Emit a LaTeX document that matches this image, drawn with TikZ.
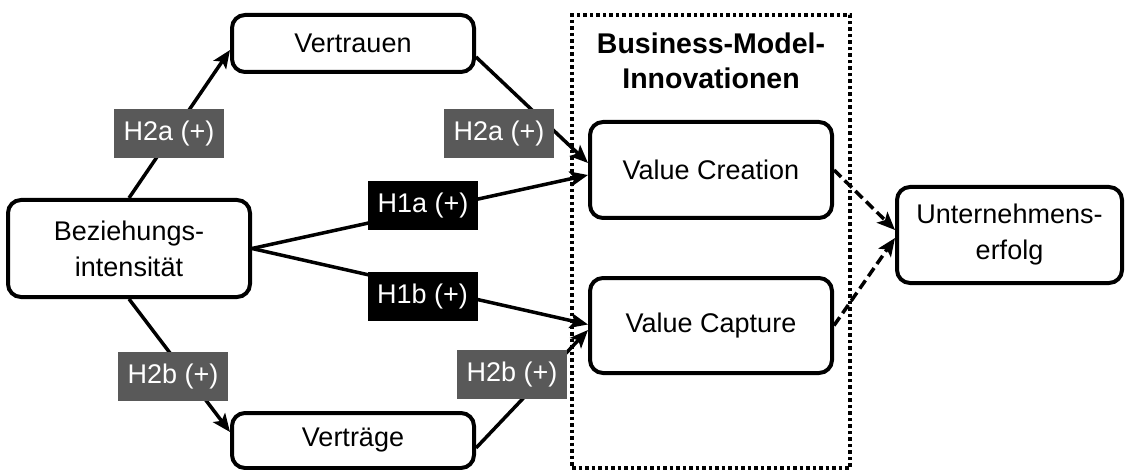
\documentclass[tikz,border=0pt]{standalone}
\usepackage{fontspec}
\setmainfont{Liberation Sans}
\usetikzlibrary{arrows.meta}
\definecolor{lblgray}{HTML}{595959}
\begin{document}
\begin{tikzpicture}[x=1pt,y=-1pt,
  box/.style={draw, line width=4pt, rounded corners=13pt, fill=white, align=center,
    font=\fontsize{27}{36}\selectfont, inner sep=0pt},
  lbl/.style={fill=lblgray, text=white, minimum width=110pt, minimum height=49pt,
    inner sep=0pt, font=\fontsize{27}{30}\selectfont},
  hlbl/.style={lbl, fill=black},
  conn/.style={line width=3.5pt, -{Stealth[length=18pt,width=15pt,inset=4pt]}},
  dconn/.style={conn, dash pattern=on 10pt off 5pt},
  groupbox/.style={draw, line width=3.5pt, dash pattern=on 3.5pt off 3pt, inner sep=0pt}]
\useasboundingbox (0,0) rectangle (1126,470);
% group
\node[groupbox, minimum width=278pt, minimum height=453pt] (bmi) at (711,241.5) {};
\node[align=center, font=\bfseries\fontsize{28.5}{35}\selectfont] (title) at (711,61) {Business-Model-\\Innovationen};
% boxes
\node[box, minimum width=242pt, minimum height=57pt] (vert) at (353,43.5) {Vertrauen};
\node[box, minimum width=242pt, minimum height=97pt] (bez) at (129,248.5) {Beziehungs-\\intensität};
\node[box, minimum width=242pt, minimum height=55pt] (vtr) at (353,440.5) {Verträge};
\node[box, minimum width=242pt, minimum height=96pt] (vc) at (711,170) {Value Creation};
\node[box, minimum width=242pt, minimum height=95pt] (vcap) at (711,325.5) {Value Capture};
\node[box, minimum width=225pt, minimum height=96pt] (unt) at (1009.5,235) {Unternehmens-\\erfolg};
% connectors
\draw[conn] (bez.north) -- ([yshift=-6.5pt]vert.west);
\draw[conn] ([yshift=-13.5pt]vert.east) -- ([yshift=7pt]vc.west);
\draw[conn] (bez.east) -- ([yshift=-5pt]vc.west);
\draw[conn] (bez.east) -- ([yshift=1pt]vcap.west);
\draw[conn] (bez.south) -- ([yshift=8.5pt]vtr.west);
\draw[conn] ([yshift=-7.5pt]vtr.east) -- ([yshift=-4.5pt]vcap.west);
\draw[dconn] (vc.east) -- ([yshift=5pt]unt.west);
\draw[dconn] (vcap.east) -- ([yshift=-3pt]unt.west);
% labels
\node[lbl] (l2a1) at (169,133.5) {H2a (+)};
\node[lbl] (l2a2) at (499,133.5) {H2a (+)};
\node[hlbl] (l1a) at (423,206) {H1a (+)};
\node[hlbl] (l1b) at (422.5,296.5) {H1b (+)};
\node[lbl] (l2b1) at (173,376.5) {H2b (+)};
\node[lbl] (l2b2) at (512,374.5) {H2b (+)};
\end{tikzpicture}
\end{document}
